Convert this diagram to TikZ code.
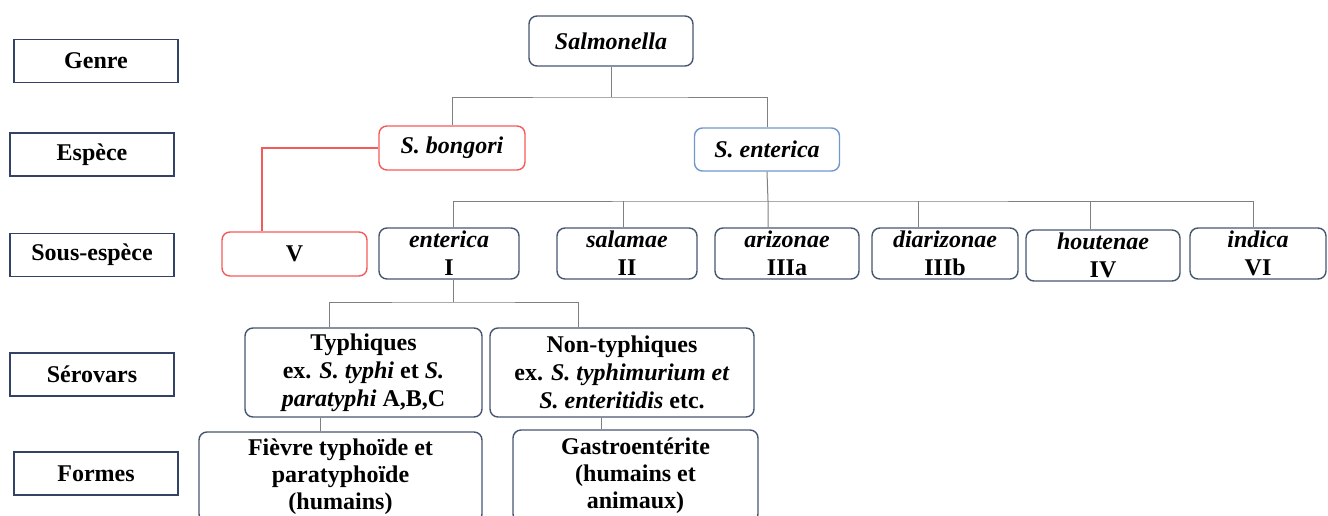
\documentclass[tikz,border=0pt]{standalone}
\usepackage{fontspec}
\setmainfont{Liberation Serif}
\usepackage{xcolor}
\definecolor{boxLine}{RGB}{70,86,112}
\definecolor{rankLine}{RGB}{52,66,102}
\definecolor{bongLine}{RGB}{245,90,90}
\definecolor{entLine}{RGB}{112,150,205}
\definecolor{linkGray}{RGB}{128,128,128}
\usetikzlibrary{positioning,calc}
\tikzstyle{rank}=[draw=rankLine, line width=0.8pt, minimum width=82pt, minimum height=21.5pt, font=\bfseries\fontsize{12}{14}\selectfont]
\tikzstyle{taxon}=[draw=boxLine, line width=0.7pt, rounded corners=4pt, align=center, inner sep=0pt, font=\bfseries\fontsize{12}{14}\selectfont]
\tikzstyle{link}=[draw=linkGray, line width=0.5pt]

\begin{document}
\begin{tikzpicture}[x=0.5pt,y=-0.5pt]
\useasboundingbox (0,0) rectangle (1328,515);

\node[rank] (genre) at (96,61) {Genre};
\node[rank] (espece) at (92,154.5) {Espèce};
\node[rank] (sousesp) at (92,255) {Sous-espèce};
\node[rank] (serovars) at (92,374.5) {Sérovars};
\node[rank] (formes) at (96,473.5) {Formes};

\node[taxon, minimum width=82pt, minimum height=25pt] (salm) at (611,41) {\textit{Salmonella}};
\node[taxon, draw=bongLine, minimum width=73pt, minimum height=22pt] (bong) at (452,148) {\textit{S. bongori}};
\node[taxon, draw=entLine, minimum width=72.5pt, minimum height=21.5pt] (sent) at (767,149.5) {\textit{S. enterica}};

\node[taxon, draw=bongLine, minimum width=72.5pt, minimum height=22pt] (subV) at (294.5,254) {V};
\node[taxon, minimum width=70pt, minimum height=25.5pt] (enter) at (449,253.5) {\textit{enterica}\\I};
\node[taxon, minimum width=70pt, minimum height=25.5pt] (salam) at (627,253.5) {\textit{salamae}\\II};
\node[taxon, minimum width=72pt, minimum height=25.5pt] (arizo) at (787,253.5) {\textit{arizonae}\\IIIa};
\node[taxon, minimum width=73pt, minimum height=25.5pt] (diari) at (945,253.5) {\textit{diarizonae}\\IIIb};
\node[taxon, minimum width=77pt, minimum height=25.5pt] (houte) at (1103,255.5) {\textit{houtenae}\\IV};
\node[taxon, minimum width=68pt, minimum height=25.5pt] (indica) at (1258,253.5) {\textit{indica}\\VI};

\node[taxon, minimum width=118.5pt, minimum height=44.5pt] (typh) at (363.5,372.5)
  {Typhiques\\ex. \textit{S. typhi} et \textit{S.}\\\textit{paratyphi} A,B,C};
\node[taxon, minimum width=132pt, minimum height=44.5pt] (nontyph) at (622,372.5)
  {Non-typhiques\\ex. \textit{S. typhimurium et}\\\textit{S. enteritidis} etc.};

\node[taxon, minimum width=141.5pt, minimum height=45pt, font=\bfseries\fontsize{12}{13.5}\selectfont] (fievre) at (340.5,477)
  {Fièvre typhoïde et\\paratyphoïde\\(humains)};
\node[taxon, minimum width=122.5pt, minimum height=46pt, font=\bfseries\fontsize{12}{13.5}\selectfont] (gastro) at (635.5,476)
  {Gastroentérite\\(humains et\\animaux)};

\coordinate (genbar) at (611,97);
\draw[link] (salm.south) -- (genbar);
\draw[link] (bong.north) |- (genbar) -| (sent.north);
\draw[draw=bongLine, line width=0.6pt] (bong.west) -| ([xshift=-16.25pt]subV.north);

\coordinate (subbar) at (768,201);
\draw[link] (sent.south) -- (subbar) -- (subbar |- arizo.north);
\draw[link] ([xshift=2pt]enter.north) |- (subbar) -| ([xshift=-2.5pt]indica.north);
\foreach \n/\s in {salam/-2pt, diari/-13.5pt, houte/-6.5pt}
  \draw[link] ([xshift=\s]\n.north) -- ([xshift=\s]\n.north |- subbar);

\coordinate (serbar) at (453,302);
\draw[link] ([xshift=2pt]enter.south) -- (serbar);
\draw[link] ([xshift=-17.25pt]typh.north) |- (serbar) -| ([xshift=-22pt]nontyph.north);

\draw[link] ([xshift=-21.75pt]typh.south) -- ([xshift=-21.75pt]typh.south |- fievre.north);
\draw[link] ([xshift=-10.5pt]nontyph.south) -- ([xshift=-10.5pt]nontyph.south |- gastro.north);
\end{tikzpicture}
\end{document}
